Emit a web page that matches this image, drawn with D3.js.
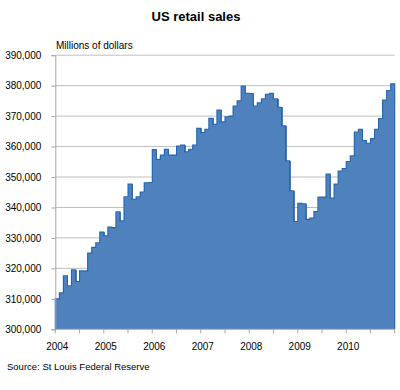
<!DOCTYPE html>
<html><head><meta charset="utf-8">
<script src="https://cdn.jsdelivr.net/npm/d3@7"></script>
<style>body{margin:0;background:#fff}svg{display:block}</style>
</head><body>
<svg id="c" width="400" height="390"></svg>
<script>
const years = ["2004","2005","2006","2007","2008","2009","2010"];
const sales2004 = [310000,312000,317600,314300,319500,315700,319200,319200,325000,326900,328400,331900];
const sales2005 = [330700,333600,333400,338600,335600,343500,347700,342700,343500,345100,348100,348200];
const sales2006 = [359000,355800,357200,359100,357200,357200,360200,360500,358300,359100,360500,366000];
const sales2007 = [364600,365700,369300,367300,372000,368100,369800,370000,373300,375000,379900,377500];
const sales2008 = [377400,373300,374400,375700,377200,377500,375700,372900,366800,355300,345500,335400];
const sales2009 = [341400,341200,336100,336500,338700,343400,343400,351000,343100,347700,352000,352800];
const sales2010 = [355100,357000,364800,365700,362000,361100,362600,365700,369200,375300,378400,380600];
const yTicks = [300000,310000,320000,330000,340000,350000,360000,370000,380000,390000];

const series = [sales2004,sales2005,sales2006,sales2007,sales2008,sales2009,sales2010];
const data = [];
series.forEach((arr,yi)=>arr.forEach((v,m)=>data.push({key:years[yi]+"-"+(m+1), year:years[yi], month:m, value:v})));

const svg = d3.select("#c");
const L=55.3, R=394.7, T=55.2, B=329.3;
const font = "'Liberation Sans', Arial, sans-serif";

const x = d3.scaleBand().domain(data.map(d=>d.key)).range([L,R]).padding(0);
const y = d3.scaleLinear().domain([300000,390000]).range([B,T]);
const bw = x.bandwidth();

// gridlines
svg.append("g").selectAll("line").data(yTicks.slice(1)).join("line")
  .attr("x1",L).attr("x2",R).attr("y1",d=>y(d)).attr("y2",d=>y(d))
  .attr("stroke","#bfbfbf").attr("stroke-width",1);

// bars
svg.append("g").selectAll("rect").data(data).join("rect")
  .attr("x",d=>x(d.key)).attr("width",(d,i)=> i<data.length-1 ? bw+1 : bw)
  .attr("y",d=>y(d.value)).attr("height",d=>B-y(d.value))
  .attr("fill","#4f81bd").attr("shape-rendering","crispEdges");

// step outline
let p = "M"+L+","+B;
data.forEach(d=>{ p += "L"+x(d.key)+","+y(d.value)+"L"+(x(d.key)+bw)+","+y(d.value); });
p += "L"+R+","+B;
svg.append("path").attr("d",p).attr("fill","none").attr("stroke","#2565b0").attr("stroke-width",1.1);

// y axis
const ya = svg.append("g").attr("transform","translate("+L+",0)")
  .call(d3.axisLeft(y).tickValues(yTicks).tickSize(4).tickPadding(10).tickFormat(d3.format(",")));
ya.select(".domain").attr("stroke","#a6a6a6");
ya.selectAll(".tick line").attr("stroke","#a6a6a6");
ya.selectAll("text").attr("font-family",font).attr("font-size",10).attr("fill","#000");

// x axis
const xa = svg.append("g").attr("transform","translate(0,"+B+")");
xa.append("line").attr("x1",L).attr("x2",R).attr("y1",0).attr("y2",0).attr("stroke","#a6a6a6");
const tickIdx = d3.range(0,data.length+1,6);
xa.selectAll("line.t").data(tickIdx).join("line").attr("class","t")
  .attr("x1",i=> i<data.length ? x(data[i].key) : R).attr("x2",i=> i<data.length ? x(data[i].key) : R)
  .attr("y1",0).attr("y2",4).attr("stroke","#a6a6a6");
xa.selectAll("text").data(data.filter(d=>d.month===0)).join("text")
  .attr("x",d=>x(d.key)+bw/2).attr("y",21)
  .attr("text-anchor","middle").attr("font-family",font).attr("font-size",10).attr("fill","#000")
  .text(d=>d.year);

// titles
svg.append("text").attr("x",196).attr("y",21).attr("text-anchor","middle")
  .attr("font-family",font).attr("font-size",13).attr("font-weight","bold").text("US retail sales");
svg.append("text").attr("x",56).attr("y",49).attr("font-family",font).attr("font-size",10).text("Millions of dollars");
svg.append("text").attr("x",7).attr("y",370).attr("font-family",font).attr("font-size",9.5).text("Source: St Louis Federal Reserve");
</script>
</body></html>
